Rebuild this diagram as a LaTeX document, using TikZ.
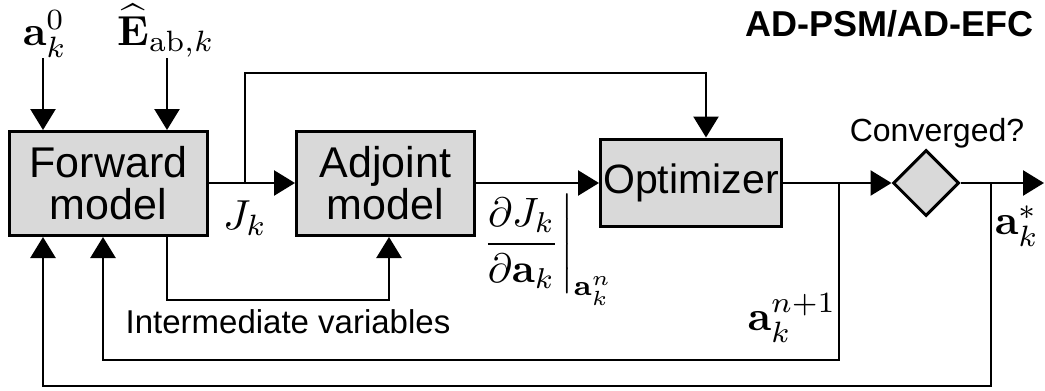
\documentclass[tikz,border=0pt]{standalone}
\usepackage{amsmath}
\usepackage[no-math]{fontspec}
\newfontfamily\rob{Liberation Sans}
\usetikzlibrary{arrows.meta,shapes.geometric}
\definecolor{boxgray}{RGB}{217,217,217}
\newcommand\bigmath[1]{\scalebox{4.2}{$#1$}}
\tikzset{
  box/.style={draw, line width=3pt, fill=boxgray, inner sep=0pt, align=center,
    font=\rob\fontsize{43}{46}\selectfont},
  dec/.style={draw, diamond, line width=3pt, fill=boxgray, inner sep=0pt, minimum width=66pt, minimum height=66pt},
  conn/.style={line width=2.5pt, -{Triangle[length=21pt,width=25pt]}},
  lbl/.style={inner sep=0pt},
  txt/.style={inner sep=0pt, font=\rob\fontsize{32}{36}\selectfont}
}
\begin{document}
\begin{tikzpicture}[x=1pt,y=-1pt]
\useasboundingbox (0,0) rectangle (1045,391);
% boxes
\node[box, minimum width=198pt, minimum height=104pt] (fwd) at (108.5,183.5) {Forward\\[-4pt]model};
\node[box, minimum width=178pt, minimum height=104pt] (adj) at (385.5,183.5) {Adjoint\\[-4pt]model};
\node[box, minimum width=181pt, minimum height=87pt, font=\rob\fontsize{41}{44}\selectfont] (opt) at (691,182.5) {Optimizer};
\node[dec] (dia) at (926,183) {};
% coordinates
\coordinate (in0) at (43,58);
\coordinate (inE) at (167,58);
\coordinate (br1) at (245,183);
\coordinate (topL) at (245,73);
\coordinate (topR) at (706,73);
\coordinate (ivL) at (167,300);
\coordinate (ivR) at (389,300);
\coordinate (b2) at (839,183);
\coordinate (l2R) at (839,360);
\coordinate (l2L) at (103,360);
\coordinate (b3) at (991,183);
\coordinate (l3R) at (991,386);
\coordinate (l3L) at (43,386);
\coordinate (out) at (1044,183);
% connectors
\draw[conn] (in0) -- (in0 |- fwd.north);
\draw[conn] (inE) -- (inE |- fwd.north);
\draw[conn] (fwd.east |- br1) -- (adj.west |- br1);
\draw[conn] (br1) -- (topL) -- (topR) -- (topR |- opt.north);
\draw[conn] (adj.east |- br1) -- (opt.west |- br1);
\draw[conn] (opt.east |- br1) -- (dia.west);
\draw[conn] (dia.east) -- (out);
\draw[conn] (ivL |- fwd.south) -- (ivL) -- (ivR) -- (ivR |- adj.south);
\draw[conn] (b2) -- (l2R) -- (l2L) -- (l2L |- fwd.south);
\draw[conn] (b3) -- (l3R) -- (l3L) -- (l3L |- fwd.south);
% labels
\node[lbl] (la0) at (45,34) {\bigmath{\mathbf{a}_k^0}};
\node[lbl] (lE) at (166,31) {\bigmath{\widehat{\mathbf{E}}_{\mathrm{ab},k}}};
\node[lbl] (lJ) at (245,218) {\bigmath{J_k}};
\node[lbl] (lD) at (546,250) {\scalebox{4.1}{$\left.\dfrac{\partial J_k}{\partial \mathbf{a}_k}\right|_{\mathbf{a}_k^n}$}};
\node[lbl] (lan) at (792,318) {\bigmath{\mathbf{a}_k^{n+1}}};
\node[lbl] (las) at (1017,226) {\bigmath{\mathbf{a}_k^{*}}};
\node[txt] (lconv) at (937,133) {Converged?};
\node[txt, font=\rob\fontsize{33}{36}\selectfont] (liv) at (288,322) {Intermediate variables};
\node[inner sep=0pt, anchor=east, font=\rob\bfseries\fontsize{36}{40}\selectfont] (title) at (1034,24) {AD-PSM/AD-EFC};
\end{tikzpicture}
\end{document}
